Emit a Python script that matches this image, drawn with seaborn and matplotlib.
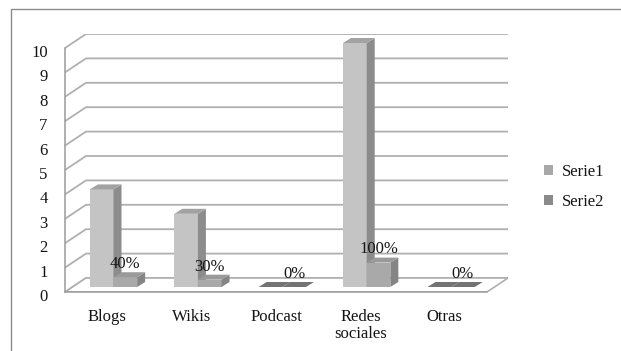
import matplotlib
matplotlib.use("Agg")
import matplotlib.pyplot as plt
import matplotlib.transforms as mtransforms
from matplotlib.patches import Polygon, Rectangle, Patch
import pandas as pd
import seaborn as sns

# ---- data -------------------------------------------------------------
categories = ["Blogs", "Wikis", "Podcast", "Redes\nsociales", "Otras"]
serie1 = [4, 3, 0, 10, 0]
serie2 = [0.4, 0.3, 0, 1.0, 0]
serie2_labels = ["40%", "30%", "0%", "100%", "0%"]
series_names = ["Serie1", "Serie2"]
y_ticks = list(range(0, 11))

df = pd.DataFrame({
    "categoria": categories * 2,
    "valor": serie1 + serie2,
    "serie": [series_names[0]] * len(categories) + [series_names[1]] * len(categories),
})

# ---- style ------------------------------------------------------------
sns.set_style("white")
plt.rcParams["font.family"] = ["Liberation Serif", "DejaVu Serif"]
TEXT = "#141414"
GRID = "#b0b0b0"
AXIS = "#9a9a9a"

front = ["#c4c4c4", "#a9a9a9"]
side = ["#8c8c8c", "#858585"]
top = ["#a2a2a2", "#9a9a9a"]
flat = "#737373"
legend_cols = ["#a8a8a8", "#8a8a8a"]

W, H = 621, 351
fig = plt.figure(figsize=(W / 100, H / 100), dpi=100)

# plot box in pixels: front axis 65..487 (x), 292..48 (y); back wall to 508 / 34
x_unit = (487 - 65) / 5.0
y_unit = (292 - 48) / 10.0
DX, DY = 21 / x_unit, 14 / y_unit          # depth of the chart walls
BX, BY = 6.3 / x_unit, 5 / y_unit          # bars sit half-way into the depth
BDX, BDY = 8 / x_unit, 5 / y_unit          # depth of each bar

ax = fig.add_axes([65 / W, 1 - 292 / H, (508 - 65) / W, (292 - 34) / H])
ax.patch.set_alpha(0)

sns.barplot(data=df, x="categoria", y="valor", hue="serie", palette=front,
            width=0.56, saturation=1, legend=False, ax=ax, linewidth=0)

ax.set_xlim(-0.5, 4.5 + DX)
ax.set_ylim(0, 10 + DY)
ax.set_xlabel("")
ax.set_ylabel("")

# back wall gridlines and floor
for v in y_ticks:
    ax.plot([-0.5, -0.5 + DX, 4.5 + DX], [v, v + DY, v + DY],
            color=GRID, lw=1.3, zorder=0.5, solid_joinstyle="miter")
ax.add_patch(Polygon([(-0.5, 0), (4.5, 0), (4.5 + DX, DY), (-0.5 + DX, DY)],
                     closed=True, fc="white", ec=GRID, lw=1.2, zorder=0.8))

# give each bar a side and a top face
bars = [b for b in ax.patches if isinstance(b, Rectangle)]
bars.sort(key=lambda b: b.get_x())
for i, b in enumerate(bars):
    s = 0 if b.get_facecolor()[0] > 0.7 else 1
    x0, w, h = b.get_x(), b.get_width(), b.get_height()
    z = 3 + i * 0.1
    b.set_x(x0 + BX)
    b.set_y(BY)
    b.set_zorder(z)
    xa, xb, y1 = x0 + BX, x0 + BX + w, BY + h
    ax.add_patch(Polygon([(xb, BY), (xb + BDX, BY + BDY), (xb + BDX, y1 + BDY), (xb, y1)],
                         closed=True, fc=side[s], ec="none", zorder=z))
    ax.add_patch(Polygon([(xa, y1), (xb, y1), (xb + BDX, y1 + BDY), (xa + BDX, y1 + BDY)],
                         closed=True, fc=(flat if h == 0 else top[s]), ec="none", zorder=z))

# percentage labels over the second series
for i, (v, lab) in enumerate(zip(serie2, serie2_labels)):
    xc = i + 0.14 + BX
    ax.annotate(lab, (xc, v + BY + BDY), xytext=(0, 3), textcoords="offset points",
                ha="center", va="baseline", fontsize=12, color=TEXT, zorder=10)

# axes, ticks and labels
for sp in ["top", "right"]:
    ax.spines[sp].set_visible(False)
ax.spines["left"].set_bounds(0, 10)
ax.spines["bottom"].set_bounds(-0.5, 4.5)
for sp in ["left", "bottom"]:
    ax.spines[sp].set_color(AXIS)
    ax.spines[sp].set_linewidth(1.1)
    ax.spines[sp].set_zorder(2)

ax.set_yticks(y_ticks)
ax.set_yticklabels([str(t) for t in y_ticks])
ax.tick_params(axis="y", length=4, width=1, color=AXIS, pad=8.5,
               labelsize=12, labelcolor=TEXT)
shift_down = mtransforms.ScaledTranslation(0, -3 / 100, fig.dpi_scale_trans)
for t in ax.get_yticklabels():
    t.set_transform(t.get_transform() + shift_down)

ax.set_xticks(range(len(categories)))
ax.set_xticklabels(categories, linespacing=1.15)
ax.set_xticks([i - 0.5 for i in range(len(categories) + 1)], minor=True)
ax.tick_params(axis="x", which="major", length=0, pad=12, labelsize=12, labelcolor=TEXT)
ax.tick_params(axis="x", which="minor", length=4, width=1, color=AXIS)

# legend
handles = [Patch(fc=c, ec="none") for c in legend_cols]
fig.legend(handles, series_names, loc="upper left",
           bbox_to_anchor=(544 / W, 1 - 164 / H), frameon=False,
           handlelength=0.55, handleheight=0.55, handletextpad=0.5,
           labelspacing=0.85, fontsize=12, borderpad=0, borderaxespad=0,
           labelcolor=TEXT)

# outer chart frame
fig.add_artist(Rectangle((11 / W, -0.1), 1.2, 1 - 9 / H + 0.1,
                         transform=fig.transFigure, fill=False,
                         ec="#8a8a8a", lw=1.0))

fig.savefig("out.png", dpi=100)
